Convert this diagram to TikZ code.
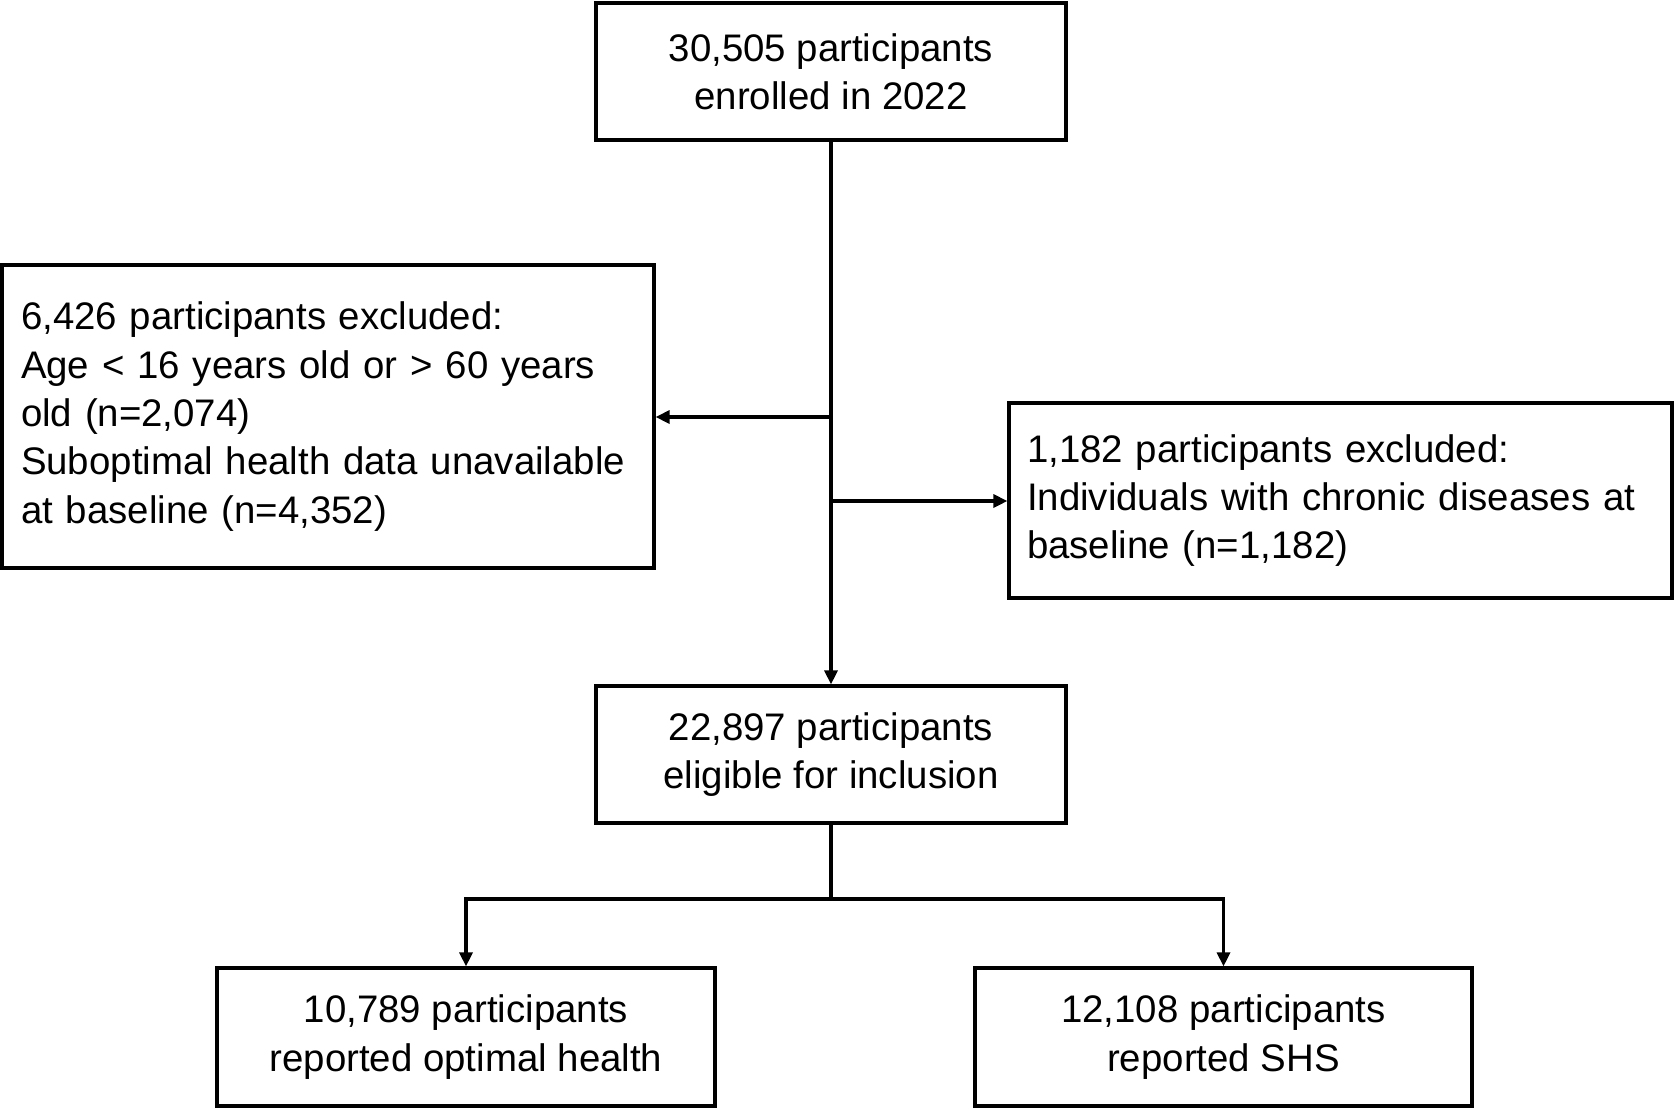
\documentclass[tikz,border=0pt]{standalone}
\usepackage{fontspec}
\setmainfont{Liberation Sans}
\usetikzlibrary{arrows.meta}
\begin{document}
\begin{tikzpicture}[x=0.5pt,y=-0.5pt,
  box/.style={draw, line width=1.6pt, inner sep=0pt, font=\fontsize{19.2}{24.2}\selectfont},
  ln/.style={line width=1.6pt},
  arr/.style={line width=1.6pt, -{Triangle[length=7pt,width=6.5pt]}}]
\useasboundingbox (0,0) rectangle (1675,1110);
\node[box, minimum width=235pt, minimum height=68.5pt, align=center] (top) at (831,71.5) {30,505 participants\\enrolled in 2022};
\node[box, minimum width=235pt, minimum height=68.5pt, align=center] (mid) at (831,754.5) {22,897 participants\\eligible for inclusion};
\node[box, minimum width=249pt, minimum height=69pt, align=center] (bl) at (466,1037) {10,789 participants\\reported optimal health};
\node[box, minimum width=248.5pt, minimum height=69pt, align=center] (br) at (1223.5,1037) {12,108 participants\\reported SHS};
\node[box, text width=307pt, inner xsep=9.5pt, minimum height=151.5pt, align=left] (left) at (328,416.5) {6,426 participants excluded:\\Age < 16 years old or > 60 years\\old (n=2,074)\\Suboptimal health data unavailable\\at baseline (n=4,352)};
\node[box, text width=313.5pt, inner xsep=9pt, minimum height=97.5pt, align=left] (right) at (1340.5,500.5) {1,182 participants excluded:\\Individuals with chronic diseases at\\baseline (n=1,182)};
\draw[arr] (top.south) -- (mid.north);
\coordinate (jl) at (831,417);
\coordinate (jr) at (831,501);
\coordinate (split) at (831,899);
\draw[arr] (jl) -- (jl -| left.east);
\draw[arr] (jr) -- (jr -| right.west);
\draw[ln] (mid.south) -- (split);
\draw[arr] (split) -| (bl.north);
\draw[arr] (split) -| (br.north);
\end{tikzpicture}
\end{document}
